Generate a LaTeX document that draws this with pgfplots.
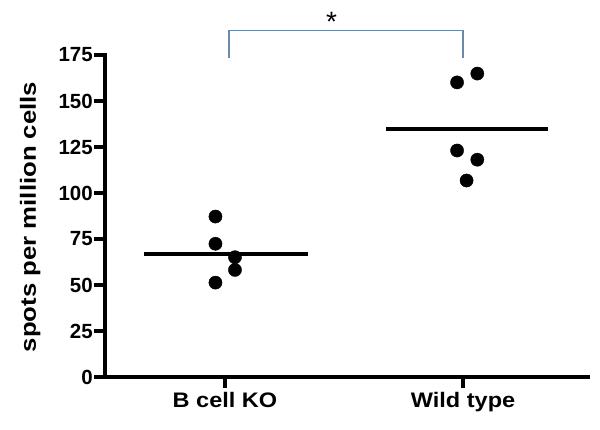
\documentclass[border=0pt]{standalone}
\usepackage{pgfplots}
\pgfplotsset{compat=1.18}
\usepackage{fontspec}
\setmainfont{Liberation Sans}
\definecolor{bracketc}{RGB}{105,138,170}
\begin{document}
\begin{tikzpicture}
\begin{axis}[
  at={(105pt,52pt)}, anchor=south west,
  scale only axis, width=483pt, height=322pt,
  xmin=0.496, xmax=2.525, ymin=0, ymax=175,
  axis x line=bottom, axis y line=left,
  axis line style={-, line width=3.8pt, line cap=rect},
  tick align=outside,
  major tick length=11pt,
  tick style={line width=3.6pt, black},
  xtick={1,2}, xticklabels={\scalebox{1.12}[1]{B cell KO}, \scalebox{1.12}[1]{Wild type}},
  ytick={0,25,...,175},
  /pgf/number format/assume math mode=true,
  yticklabel style={font=\bfseries\fontsize{20.5}{20.5}\selectfont, inner sep=1pt},
  xticklabel style={font=\bfseries\fontsize{21}{21}\selectfont, yshift=-1pt},
  ylabel={\scalebox{1.17}[1]{spots per million cells}},
  ylabel style={font=\bfseries\fontsize{22}{22}\selectfont, at={(axis description cs:-0.155,0.497)}, anchor=center},
  clip=false,
]
\addplot[only marks, mark=*, mark size=6.6pt, black] coordinates {
 (0.96,87.2) (0.96,72.4) (1.042,65.1) (1.042,58.2) (0.96,51.3)
 (1.975,160.1) (2.06,164.9) (1.975,123.1) (2.06,118.1) (2.015,106.8)};
\addplot[black, line width=3.8pt] coordinates {(0.66,66.9) (1.35,66.9)};
\addplot[black, line width=3.8pt] coordinates {(1.676,134.7) (2.357,134.7)};
\draw[bracketc, line width=1.6pt] (axis cs:1.017,173.4) -- (axis cs:1.017,188.4) -- (axis cs:2.0,188.4) -- (axis cs:2.0,173.4);
\node[anchor=north, inner sep=0pt, font=\fontsize{28}{28}\selectfont] at (axis cs:1.448,198.5) {*};
\end{axis}
\pgfresetboundingbox
\useasboundingbox (0,0) rectangle (600pt,429pt);
\end{tikzpicture}
\end{document}
